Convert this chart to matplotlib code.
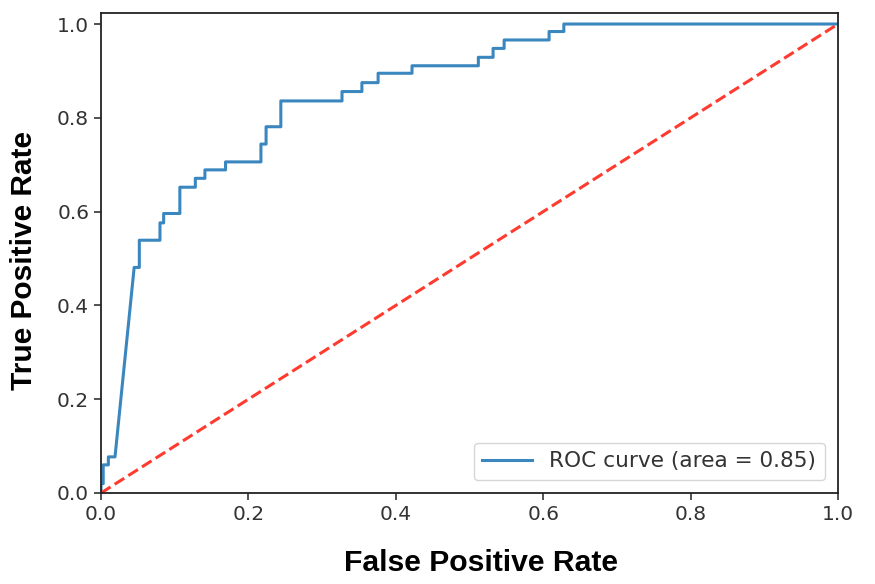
import matplotlib
matplotlib.use("Agg")
import matplotlib.pyplot as plt

# ROC curve vertices (step corners)
fpr = [0.0, 0.0, 0.003, 0.003, 0.010, 0.010, 0.019, 0.045, 0.052, 0.052, 0.080, 0.080,
       0.085, 0.085, 0.107, 0.107, 0.128, 0.128, 0.141, 0.141, 0.169, 0.169, 0.217, 0.217,
       0.224, 0.224, 0.244, 0.244, 0.327, 0.327, 0.354, 0.354, 0.376, 0.376, 0.422, 0.422,
       0.512, 0.512, 0.532, 0.532, 0.547, 0.547, 0.608, 0.608, 0.628, 0.628, 1.0]
tpr = [0.0, 0.02, 0.02, 0.06, 0.06, 0.077, 0.077, 0.481, 0.481, 0.539, 0.539, 0.576,
       0.576, 0.596, 0.596, 0.652, 0.652, 0.671, 0.671, 0.689, 0.689, 0.706, 0.706, 0.744,
       0.744, 0.781, 0.781, 0.836, 0.836, 0.856, 0.856, 0.875, 0.875, 0.895, 0.895, 0.911,
       0.911, 0.929, 0.929, 0.948, 0.948, 0.966, 0.966, 0.984, 0.984, 1.0, 1.0]
roc_auc = 0.85
chance = [0.0, 1.0]

fig = plt.figure(figsize=(8.75, 5.84), dpi=100)
ax = fig.add_axes([101/875, 1 - 493/584, 737/875, 480/584])
ax.plot(fpr, tpr, color="#3a87c0", lw=2.2, label="ROC curve (area = %0.2f)" % roc_auc)
ax.plot(chance, chance, color="#ff3b30", lw=2.2, linestyle="--")
ax.set_xlim(0.0, 1.0)
ax.set_ylim(0.0, 1.0235)
ax.set_yticks([0.0, 0.2, 0.4, 0.6, 0.8, 1.0])
ax.tick_params(labelsize=14.5, colors="#333333", length=5, width=1.2)
for s in ax.spines.values():
    s.set_linewidth(1.3)
    s.set_color("#222222")
ax.set_xlabel("False Positive Rate", fontsize=21.7, fontweight="bold",
              family="Liberation Sans", labelpad=18)
ax.set_ylabel("True Positive Rate", fontsize=21.5, fontweight="bold",
              family="Liberation Sans", labelpad=14)
ax.xaxis.label.set_x(0.516)
ax.yaxis.label.set_y(0.484)
leg = ax.legend(loc="lower right", fontsize=15.6, framealpha=0.8,
                handlelength=2.3, borderaxespad=0.6)
for t in leg.get_texts():
    t.set_color("#333333")
fig.savefig("out.png", dpi=100)
